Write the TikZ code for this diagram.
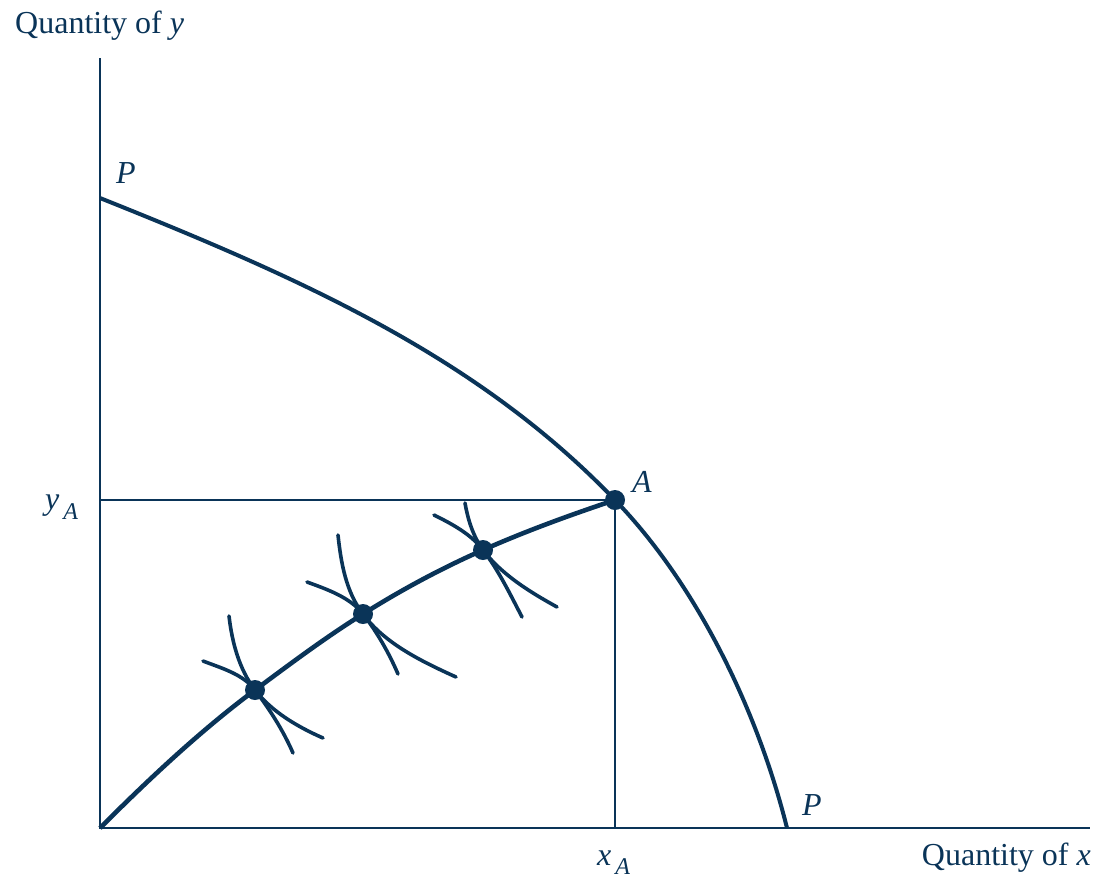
\documentclass[tikz,border=0pt]{standalone}
\usepackage{fontspec}
\setmainfont{Liberation Serif}
\definecolor{navy}{RGB}{10,52,88}
\begin{document}
\begin{tikzpicture}[x=1pt,y=-1pt,
  axis/.style={draw=navy,line width=2.2pt},
  guide/.style={draw=navy,line width=2pt},
  curve/.style={draw=navy,line width=4pt},
  indiff/.style={draw=navy,line width=3.6pt,line cap=round},
  dot/.style={circle,fill=navy,inner sep=0pt,minimum size=20pt},
  lbl/.style={text=navy,font=\fontsize{32}{36}\selectfont,inner sep=0pt}]
\useasboundingbox (0,0) rectangle (1099,879);
% axes
\coordinate (O) at (100,828);
\coordinate (Ytop) at (100,58);
\coordinate (Xend) at (1090,828);
\draw[axis] (Ytop) -- (O) -- (Xend);
% PPF
\coordinate (Ptop) at (100,198);
\coordinate (Pbot) at (787,828);
\coordinate (Apt) at (615,500);
\draw[curve] (Ptop) .. controls (300,278) and (477,356) .. (Apt)
                    .. controls (698,586) and (758,712) .. (Pbot);
% guides
\coordinate (YA) at (100,500);
\coordinate (XA) at (615,828);
\draw[guide] (YA) -- (Apt) -- (XA);
% contract curve
\coordinate (C1) at (255,690);
\coordinate (C2) at (363,614);
\coordinate (C3) at (483,550);
\draw[curve,line width=4.6pt] (O) .. controls (149,779) and (200,731) .. (C1)
   .. controls (290,664) and (326,637) .. (C2)
   .. controls (401,590) and (442,568) .. (C3)
   .. controls (526,531) and (570,515) .. (Apt);
% indifference curves at C1
\coordinate (a1s) at (229,616); \coordinate (a1e) at (323,738);
\coordinate (b1s) at (203,661); \coordinate (b1e) at (293,753);
\draw[indiff] (a1s) .. controls (232,642) and (239,669) .. (C1) .. controls (272,712) and (298,727) .. (a1e);
\draw[indiff] (b1s) .. controls (221,668) and (243,674) .. (C1) .. controls (270,710) and (283,730) .. (b1e);
% at C2
\coordinate (a2s) at (338,535); \coordinate (a2e) at (456,677);
\coordinate (b2s) at (307,582); \coordinate (b2e) at (398,674);
\draw[indiff] (a2s) .. controls (341,563) and (346,592) .. (C2) .. controls (385,644) and (423,662) .. (a2e);
\draw[indiff] (b2s) .. controls (326,589) and (350,597) .. (C2) .. controls (377,632) and (389,653) .. (b2e);
% at C3
\coordinate (a3s) at (465,503); \coordinate (a3e) at (557,607);
\coordinate (b3s) at (434,515); \coordinate (b3e) at (522,617);
\draw[indiff] (a3s) .. controls (468,520) and (473,536) .. (C3) .. controls (502,575) and (530,592) .. (a3e);
\draw[indiff] (b3s) .. controls (452,524) and (471,534) .. (C3) .. controls (499,571) and (510,594) .. (b3e);
% dots
\node[dot] (D1) at (C1) {};
\node[dot] (D2) at (C2) {};
\node[dot] (D3) at (C3) {};
\node[dot] (DA) at (Apt) {};
% labels
\node[lbl,anchor=base west] (ly) at (15,33) {Quantity of \textit{y}};
\node[lbl,anchor=base east] (lx) at (1091,865) {Quantity of \textit{x}};
\node[lbl,anchor=base west] (lP1) at (116,183) {\textit{P}};
\node[lbl,anchor=base west] (lP2) at (802,815) {\textit{P}};
\node[lbl,anchor=base west] (lA) at (632,492) {\textit{A}};
\node[lbl,anchor=base west] (lyA) at (45,509) {\textit{y}\hspace{4pt}\raisebox{-10pt}{\fontsize{24}{24}\selectfont\textit{A}}};
\node[lbl,anchor=base west] (lxA) at (597,865) {\textit{x}\hspace{4pt}\raisebox{-9pt}{\fontsize{24}{24}\selectfont\textit{A}}};
\end{tikzpicture}
\end{document}
